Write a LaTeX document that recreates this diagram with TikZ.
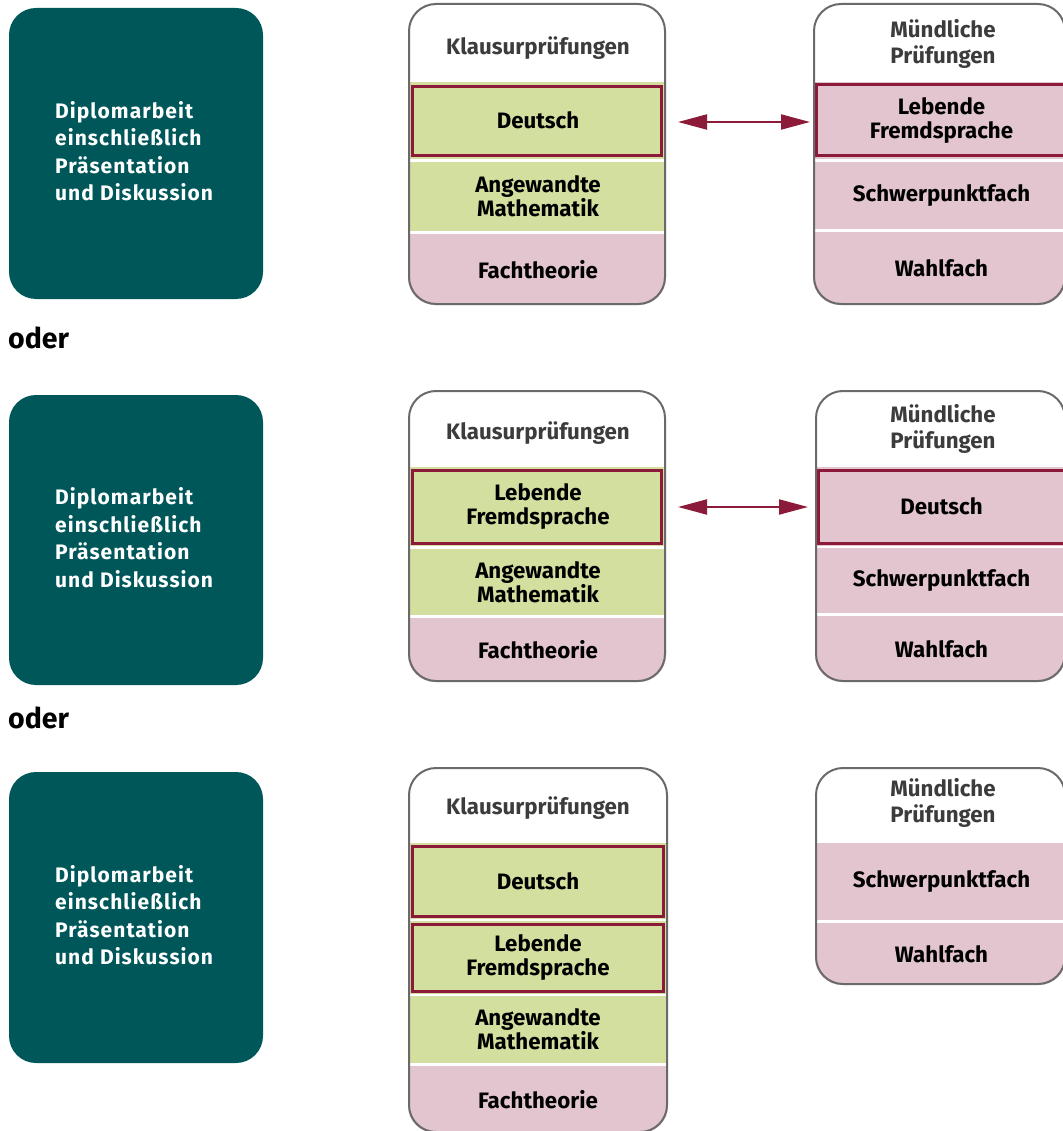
\documentclass[tikz,border=0pt]{standalone}
\usepackage{fontspec}
\setmainfont{Fira Sans}
\usetikzlibrary{arrows.meta}

\definecolor{petrol}{HTML}{00575A}
\definecolor{bandgreen}{HTML}{D3DF9F}
\definecolor{bandpink}{HTML}{E2C5CE}
\definecolor{pickred}{HTML}{8C1B3A}
\definecolor{framegray}{HTML}{6A6A6A}
\definecolor{headgray}{HTML}{3C3C3C}

\tikzset{
  txt/.style={font=\bfseries\fontsize{22.3}{24.2}\selectfont},
  diploma/.style={fill=petrol, rounded corners=27pt},
  diplomatext/.style={text=white, align=left, anchor=west, inner sep=0,
    font=\bfseries\fontsize{21}{27.5}\selectfont\addfontfeatures{LetterSpace=5}},
  examframe/.style={draw=framegray, line width=2pt, rounded corners=27pt},
  headtext/.style={font=\bfseries\fontsize{22.3}{26.5}\selectfont, text=headgray, align=center, inner sep=0},
  band/.style={txt, anchor=north west, inner sep=0, outer sep=0, text=black, align=center},
  kband/.style={band, minimum width=260pt},
  mband/.style={band, minimum width=257pt},
  pick/.style={draw=pickred, line width=3pt},
  swap/.style={draw=pickred, line width=2pt,
    {Triangle[length=29pt,width=15pt]}-{Triangle[length=29pt,width=15pt]}},
  ortext/.style={font=\bfseries\fontsize{28.5}{30}\selectfont, anchor=west, inner sep=0}
}

\begin{document}
\begin{tikzpicture}[x=1pt,y=-1pt]
\useasboundingbox (0,0) rectangle (1062,1131);

% ---------- first variant ----------
\fill[diploma] (9,8) rectangle (263,299);
\node[diplomatext] (d1) at (55,151) {Diplomarbeit\\einschließlich\\Präsentation\\und Diskussion};
\node[ortext] (or1) at (8,338) {oder};

\fill[white,rounded corners=27pt] (408,3) rectangle (666,305);
\begin{scope}
  \clip[rounded corners=27pt] (408,3) rectangle (666,305);
  \node[kband, fill=bandgreen, minimum height=77pt] (k1a) at (408,82) {Deutsch};
  \node[kband, fill=bandgreen, minimum height=69pt] (k1b) at (408,162) {Angewandte\\Mathematik};
  \node[kband, fill=bandpink, minimum height=72pt] (k1c) at (408,234) {Fachtheorie};
\end{scope}
\draw[pick] (412.5,86.5) rectangle (661,156);
\draw[examframe] (409,4) rectangle (665,304);
\node[headtext] (k1h) at (538,48) {Klausurprüfungen};

\fill[white,rounded corners=27pt] (813,3) rectangle (1066,305);
\begin{scope}
  \clip[rounded corners=27pt] (813,3) rectangle (1066,305);
  \node[mband, fill=bandpink, minimum height=77pt] (m1a) at (813,82) {Lebende\\Fremdsprache};
  \node[mband, fill=bandpink, minimum height=67pt] (m1b) at (813,162) {Schwerpunktfach};
  \node[mband, fill=bandpink, minimum height=73pt] (m1c) at (813,232) {Wahlfach};
\end{scope}
\draw[pick] (816.5,85) rectangle (1066,156);
\draw[examframe] (814,4) rectangle (1065,304);
\node[headtext] (m1h) at (943,44) {Mündliche\\Prüfungen};

% the arrow sits a little below the band centres (canvas y points up)
\draw[swap, shorten <=10pt, shorten >=3pt] ([yshift=-1.5pt]k1a.east) -- ([yshift=-1.5pt]m1a.west);

% ---------- second variant ----------
\fill[diploma] (9,395) rectangle (263,685);
\node[diplomatext] (d2) at (55,537.5) {Diplomarbeit\\einschließlich\\Präsentation\\und Diskussion};
\node[ortext] (or2) at (8,718) {oder};

\fill[white,rounded corners=27pt] (408,390) rectangle (666,682);
\begin{scope}
  \clip[rounded corners=27pt] (408,390) rectangle (666,682);
  \node[kband, fill=bandgreen, minimum height=79pt] (k2a) at (408,467) {Lebende\\Fremdsprache};
  \node[kband, fill=bandgreen, minimum height=66pt] (k2b) at (408,549) {Angewandte\\Mathematik};
  \node[kband, fill=bandpink, minimum height=64pt] (k2c) at (408,618) {Fachtheorie};
\end{scope}
\draw[pick] (412.5,470.5) rectangle (661,543);
\draw[examframe] (409,391) rectangle (665,681);
\node[headtext] (k2h) at (538,433) {Klausurprüfungen};

\fill[white,rounded corners=27pt] (815,390) rectangle (1066,682);
\begin{scope}
  \clip[rounded corners=27pt] (815,390) rectangle (1066,682);
  \node[mband, fill=bandpink, minimum height=79pt] (m2a) at (813,467) {Deutsch};
  \node[mband, fill=bandpink, minimum height=65pt] (m2b) at (813,548) {Schwerpunktfach};
  \node[mband, fill=bandpink, minimum height=66pt] (m2c) at (813,616) {Wahlfach};
\end{scope}
\draw[pick] (818.5,470) rectangle (1066,543);
\draw[examframe] (816,391) rectangle (1065,681);
\node[headtext] (m2h) at (943,429) {Mündliche\\Prüfungen};

\draw[swap, shorten <=10pt, shorten >=5pt] ([yshift=-0.5pt]k2a.east) -- ([yshift=-0.5pt]m2a.west);

% ---------- third variant ----------
\fill[diploma] (9,772) rectangle (263,1063);
\node[diplomatext] (d3) at (55,915) {Diplomarbeit\\einschließlich\\Präsentation\\und Diskussion};

\fill[white,rounded corners=27pt] (408,767) rectangle (668,1133);
\begin{scope}
  \clip[rounded corners=27pt] (408,767) rectangle (668,1133);
  \node[kband, fill=bandgreen, minimum height=76pt] (k3a) at (408,843) {Deutsch};
  \node[kband, fill=bandgreen, minimum height=73pt] (k3b) at (408,921) {Lebende\\Fremdsprache};
  \node[kband, fill=bandgreen, minimum height=67pt] (k3c) at (408,996) {Angewandte\\Mathematik};
  \node[kband, fill=bandpink, minimum height=67pt] (k3d) at (408,1066) {Fachtheorie};
\end{scope}
\draw[pick] (412.5,846.5) rectangle (663,916.5);
\draw[pick] (412.5,924.5) rectangle (663,991);
\draw[examframe] (409,768) rectangle (667,1132);
\node[headtext] (k3h) at (538,808) {Klausurprüfungen};

\fill[white,rounded corners=27pt] (815,767) rectangle (1066,985);
\begin{scope}
  \clip[rounded corners=27pt] (815,767) rectangle (1066,985);
  \node[mband, fill=bandpink, minimum height=77pt] (m3a) at (813,843) {Schwerpunktfach};
  \node[mband, fill=bandpink, minimum height=62pt] (m3b) at (813,923) {Wahlfach};
\end{scope}
\draw[examframe] (816,768) rectangle (1065,984);
\node[headtext] (m3h) at (943,803) {Mündliche\\Prüfungen};

\end{tikzpicture}
\end{document}
